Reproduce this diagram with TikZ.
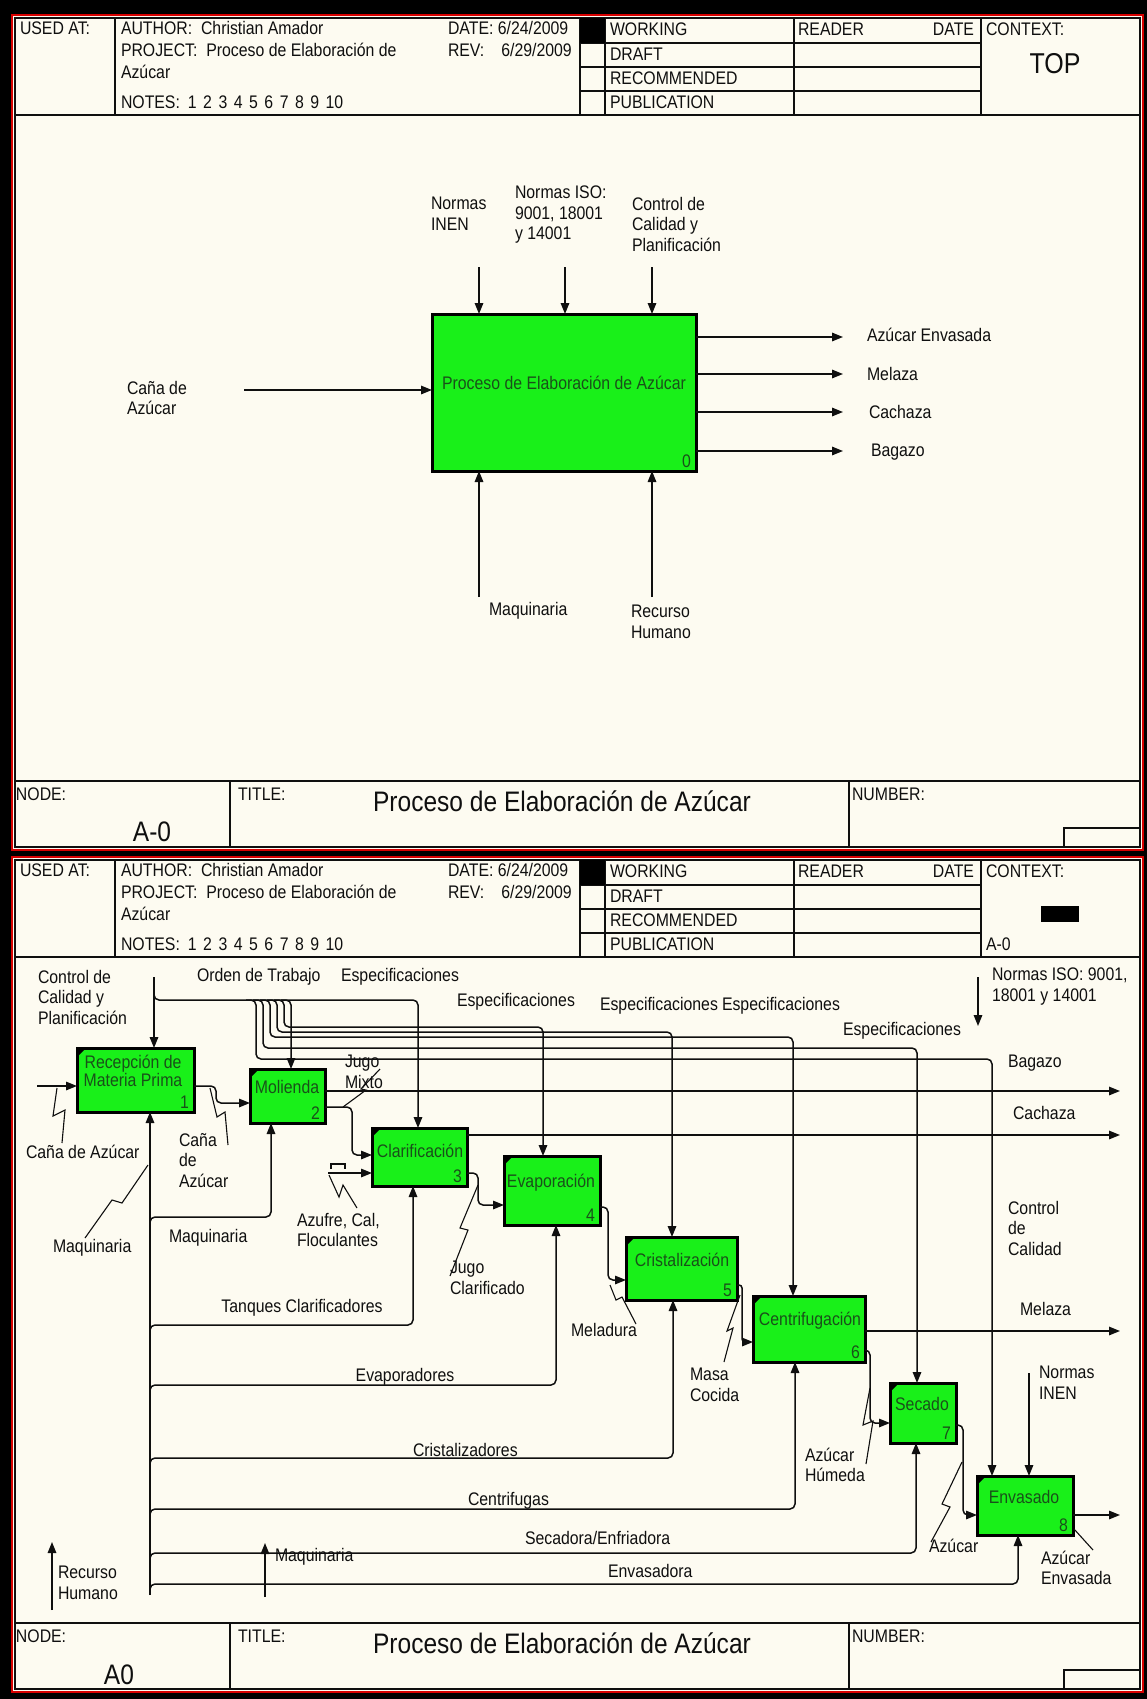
\documentclass[tikz,border=0pt]{standalone}
\usepackage{fontspec}
\setmainfont[FakeStretch=0.87]{Liberation Sans}
\usetikzlibrary{arrows.meta}
\definecolor{sheet}{RGB}{253,251,241}
\definecolor{frame}{RGB}{215,0,0}
\definecolor{act}{RGB}{25,240,25}
\definecolor{acttext}{RGB}{25,80,25}
\definecolor{ink}{RGB}{15,15,15}

% One IDEF0 sheet: red border, header block and footer block.
\newcommand\idefsheet[1]{%
  \filldraw[fill=sheet, draw=frame, line width=2.5pt] (12,15) rectangle (1143,850);
  \draw[grid] (15,18) rectangle (1140,847);
  \draw[grid] (15,115) -- (1140,115);
  \draw[grid] (115,18) -- (115,115) (580,18) -- (580,115) (605,18) -- (605,115)
              (794,18) -- (794,115) (981,18) -- (981,115);
  \draw[grid] (580,43) -- (981,43) (580,67) -- (981,67) (580,91) -- (981,91);
  \fill[black] (580,18) rectangle (605,43);
  \node[txt] (#1used)  at (20,30)  {USED AT:};
  \node[txt] (#1auth)  at (121,30) {AUTHOR:\ \ Christian Amador};
  \node[txt] (#1proj)  at (121,52) {PROJECT:\ \ Proceso de Elaboración de};
  \node[txt] (#1projb) at (121,74) {Azúcar};
  \node[txt] (#1notes) at (121,104) {NOTES:\hspace{8pt}1\hspace{6.5pt}2\hspace{6.5pt}3\hspace{6.5pt}4\hspace{6.5pt}5\hspace{6.5pt}6\hspace{6.5pt}7\hspace{6.5pt}8\hspace{6.5pt}9\hspace{6.5pt}10};
  \node[txt] (#1date)  at (448,30) {DATE: 6/24/2009};
  \node[txt] (#1rev)   at (448,52) {REV:\hspace{17pt}6/29/2009};
  \node[txt] (#1work)  at (610,31) {WORKING};
  \node[txt] (#1draft) at (610,56) {DRAFT};
  \node[txt] (#1recom) at (610,80) {RECOMMENDED};
  \node[txt] (#1publ)  at (610,104) {PUBLICATION};
  \node[txt] (#1read)  at (798,31) {READER};
  \node[txt, anchor=east] (#1rdate) at (974,31) {DATE};
  \node[txt] (#1ctx)   at (986,31) {CONTEXT:};
  \draw[grid] (15,781) -- (1140,781) (230,781) -- (230,847) (849,781) -- (849,847)
              (1064,847) -- (1064,828) -- (1140,828);
  \node[txt] (#1node)  at (16,796)  {NODE:};
  \node[txt] (#1title) at (238,796) {TITLE:};
  \node[txt] (#1numb)  at (852,796) {NUMBER:};
  \node[big] (#1name)  at (562,801) {Proceso de Elaboración de Azúcar};
}

\begin{document}
\begin{tikzpicture}[x=1pt, y=-1pt,
  every node/.style={inner sep=0pt, outer sep=0pt, text=ink,
                     font=\fontsize{18.2}{20.5}\selectfont},
  txt/.style={anchor=west, text height=13pt, text depth=4pt},
  ml/.style={anchor=north west, align=left},
  big/.style={font=\fontsize{28.2}{31}\selectfont},
  grid/.style={line width=1.5pt, draw=ink},
  actbox/.style={draw=black, line width=3pt, fill=act, anchor=north west},
  acttxt/.style={text=acttext, align=center, font=\fontsize{18.2}{18.5}\selectfont},
  num/.style={text=acttext, anchor=south east, text height=12.5pt, text depth=0pt},
  flow/.style={line width=1.5pt, draw=ink, rounded corners=5pt,
               -{Triangle[length=11pt,width=8.5pt]}},
  squig/.style={line width=1.1pt, draw=ink},
]
\useasboundingbox (0,0) rectangle (1147,1699);
\fill[black] (0,0) rectangle (1147,1699);

% ---------------- context sheet (A-0) ----------------
\idefsheet{u}
\node[big, font=\fontsize{28.7}{31}\selectfont] (utop) at (1055,64) {TOP};
\node[big] (uA) at (152,832) {A-0};

\node[actbox, minimum width=264pt, minimum height=157pt] (b0) at (432,314) {};
\node[acttxt] (b0t) at (564,383) {Proceso de Elaboración de Azúcar};
\node[num] (b0n) at ([xshift=-5pt,yshift=4pt]b0.south east) {0};

\coordinate (uc1) at (479,267);
\coordinate (uc2) at (565,267);
\coordinate (uc3) at (652,267);
\draw[flow] (uc1) -- (uc1 |- b0.north);
\draw[flow] (uc2) -- (uc2 |- b0.north);
\draw[flow] (uc3) -- (uc3 |- b0.north);
\coordinate (um1) at (479,597);
\coordinate (um2) at (652,597);
\draw[flow] (um1) -- (um1 |- b0.south);
\draw[flow] (um2) -- (um2 |- b0.south);
\coordinate (ui) at (244,390);
\draw[flow] (ui) -- (ui -| b0.west);
\coordinate (uo1) at (843,337);
\coordinate (uo2) at (843,374);
\coordinate (uo3) at (843,412);
\coordinate (uo4) at (843,451);
\draw[flow] (uo1 -| b0.east) -- (uo1);
\draw[flow] (uo2 -| b0.east) -- (uo2);
\draw[flow] (uo3 -| b0.east) -- (uo3);
\draw[flow] (uo4 -| b0.east) -- (uo4);

\node[ml] (ul1) at (431,197) {Normas\\INEN};
\node[ml] (ul2) at (515,186) {Normas ISO:\\9001, 18001\\y 14001};
\node[ml] (ul3) at (632,197) {Control de\\Calidad y\\Planificación};
\node[txt] (ul4) at (489,611) {Maquinaria};
\node[ml] (ul5) at (631,605) {Recurso\\Humano};
\node[ml] (ul6) at (127,381) {Caña de\\Azúcar};
\node[txt] (ul7) at (867,337) {Azúcar Envasada};
\node[txt] (ul8) at (867,376) {Melaza};
\node[txt] (ul9) at (869,414) {Cachaza};
\node[txt] (ul10) at (871,452) {Bagazo};

% ---------------- decomposition sheet (A0) ----------------
\begin{scope}[yshift=-842pt]
  \idefsheet{l}
  \fill[black] (1041,64) rectangle (1079,80);
  \node[txt] (lctxA) at (986,104) {A-0};
  \node[big] (lA) at (119,833) {A0};
\end{scope}

% activities
\node[actbox, minimum width=117pt, minimum height=64pt] (b1) at (77,1048) {};
\node[actbox, minimum width=75pt,  minimum height=54pt] (b2) at (250,1069) {};
\node[actbox, minimum width=95pt,  minimum height=58pt] (b3) at (372,1128) {};
\node[actbox, minimum width=96pt,  minimum height=69pt] (b4) at (504,1156) {};
\node[actbox, minimum width=111pt, minimum height=63pt] (b5) at (626,1237) {};
\node[actbox, minimum width=112pt, minimum height=66pt] (b6) at (753,1296) {};
\node[actbox, minimum width=66pt,  minimum height=60pt] (b7) at (890,1383) {};
\node[actbox, minimum width=96pt,  minimum height=59pt] (b8) at (977,1476) {};
\foreach \b in {b1,b2,b3,b4,b5,b6,b7,b8}
  \fill[black] (\b.north west) -- ++(9,0) -- ++(-9,9) -- cycle;

\node[acttxt] (b1t) at (133,1071) {Recepción de\\Materia Prima};
\node[acttxt] (b2t) at (287,1087) {Molienda};
\node[acttxt] (b3t) at (420,1151) {Clarificación};
\node[acttxt] (b4t) at (551,1183) {Evaporación};
\node[acttxt] (b5t) at (682,1260) {Cristalización};
\node[acttxt] (b6t) at (810,1321) {Centrifugación};
\node[acttxt] (b7t) at (922,1404) {Secado};
\node[acttxt] (b8t) at (1024,1497) {Envasado};
\node[num] (b1n) at ([xshift=-5pt,yshift=4pt]b1.south east) {1};
\node[num] (b2n) at ([xshift=-5pt,yshift=4pt]b2.south east) {2};
\node[num] (b3n) at ([xshift=-5pt,yshift=4pt]b3.south east) {3};
\node[num] (b4n) at ([xshift=-5pt,yshift=4pt]b4.south east) {4};
\node[num] (b5n) at ([xshift=-5pt,yshift=4pt]b5.south east) {5};
\node[num] (b6n) at ([xshift=-5pt,yshift=4pt]b6.south east) {6};
\node[num] (b7n) at ([xshift=-5pt,yshift=4pt]b7.south east) {7};
\node[num] (b8n) at ([xshift=-5pt,yshift=4pt]b8.south east) {8};

% controls
\coordinate (cq) at (154,977);
\draw[flow] (cq) -- (cq |- b1.north);
\draw[flow] (154,990) -- (154,1000) -- (418,1000) -- (418,0 |- b3.north);
\draw[flow] (281,1000) -- (291,1000) -- (291,0 |- b2.north);
\draw[flow] (274,1000) -- (284,1000) -- (284,1027) -- (543,1027) -- (543,0 |- b4.north);
\draw[flow] (267,1000) -- (277,1000) -- (277,1032) -- (672,1032) -- (672,0 |- b5.north);
\draw[flow] (260,1000) -- (270,1000) -- (270,1037) -- (793,1037) -- (793,0 |- b6.north);
\draw[flow] (253,1000) -- (263,1000) -- (263,1048) -- (917,1048) -- (917,0 |- b7.north);
\draw[flow] (246,1000) -- (256,1000) -- (256,1059) -- (992,1059) -- (992,0 |- b8.north);
\coordinate (iso) at (978,977);
\coordinate (isoend) at (978,1026);
\draw[flow] (iso) -- (isoend);
\coordinate (inen) at (1029,1373);
\draw[flow] (inen) -- (inen |- b8.north);

% inputs and outputs
\coordinate (cana) at (37,1086);
\draw[flow] (cana) -- (cana -| b1.west);
\draw[flow] (b1.east |- 0,1086) -- (216,1086) -- (216,1103) -- (b2.west |- 0,1103);
\coordinate (bag) at (1120,1091);
\draw[flow] (bag -| b2.east) -- (bag);
\draw[flow] (b2.east |- 0,1107) -- (352,1107) -- (352,1155) -- (b3.west |- 0,1155);
\coordinate (azf) at (328,1173);
\draw[flow] (azf) -- (azf -| b3.west);
\draw[squig] (331,1169) -- (331,1164) -- (345,1164) -- (345,1169);
\coordinate (cach) at (1120,1135);
\draw[flow] (cach -| b3.east) -- (cach);
\draw[flow] (b3.east |- 0,1173) -- (478,1173) -- (478,1205) -- (b4.west |- 0,1205);
\draw[flow] (b4.east |- 0,1207) -- (608,1207) -- (608,1280) -- (b5.west |- 0,1280);
\draw[flow, rounded corners=3pt] (b5.east |- 0,1285) -- (742,1285) -- (742,1342) -- (b6.west |- 0,1342);
\coordinate (mel) at (1120,1331);
\draw[flow] (mel -| b6.east) -- (mel);
\draw[flow] (b6.east |- 0,1350) -- (870,1350) -- (870,1423) -- (b7.west |- 0,1423);
\draw[flow] (b7.east |- 0,1425) -- (963,1425) -- (963,1515) -- (b8.west |- 0,1515);
\coordinate (env) at (1120,1515);
\draw[flow] (env -| b8.east) -- (env);

% mechanisms
\coordinate (bus) at (150,1595);
\draw[flow] (bus) -- (bus |- b1.south);
\draw[flow] (150,1226) -- (150,1217) -- (271,1217) -- (271,0 |- b2.south);
\draw[flow] (150,1334) -- (150,1325) -- (413,1325) -- (413,0 |- b3.south);
\draw[flow] (150,1394) -- (150,1385) -- (556,1385) -- (556,0 |- b4.south);
\draw[flow] (150,1467) -- (150,1458) -- (673,1458) -- (673,0 |- b5.south);
\draw[flow] (150,1518) -- (150,1509) -- (795,1509) -- (795,0 |- b6.south);
\draw[flow] (150,1562) -- (150,1553) -- (916,1553) -- (916,0 |- b7.south);
\draw[flow] (150,1593) -- (150,1584) -- (1018,1584) -- (1018,0 |- b8.south);
\coordinate (rh) at (52,1610);
\coordinate (rhend) at (52,1542);
\draw[flow] (rh) -- (rhend);
\coordinate (mq) at (265,1597);
\coordinate (mqend) at (265,1543);
\draw[flow] (mq) -- (mqend);

% label leaders
\draw[squig] (62,1143) -- (65,1110) -- (53,1116) -- (57,1088);
\draw[squig] (85,1238) -- (112,1200) -- (122,1203) -- (148,1165);
\draw[squig] (228,1145) -- (225,1112) -- (217,1117) -- (210,1088);
\draw[squig] (343,1107) -- (366,1090) -- (361,1089) -- (380,1069);
\draw[squig] (357,1208) -- (343,1185) -- (339,1197) -- (329,1175);
\draw[squig] (450,1276) -- (468,1230) -- (460,1228) -- (478,1185);
\draw[squig] (636,1324) -- (622,1297) -- (616,1300) -- (610,1285);
\draw[squig] (724,1362) -- (733,1328) -- (727,1331) -- (740,1295);
\draw[squig] (866,1464) -- (873,1421) -- (863,1425) -- (870,1388);
\draw[squig] (931,1542) -- (950,1507) -- (942,1504) -- (962,1462);
\draw[squig] (1074,1529) -- (1093,1550);

% arrow labels
\node[ml] (l1) at (38,970) {Control de\\Calidad y\\Planificación};
\node[txt] (l2) at (197,977) {Orden de Trabajo};
\node[txt] (l3) at (341,977) {Especificaciones};
\node[txt] (l4) at (457,1002) {Especificaciones};
\node[txt] (l5) at (600,1006) {Especificaciones};
\node[txt] (l6) at (722,1006) {Especificaciones};
\node[txt] (l7) at (843,1031) {Especificaciones};
\node[ml] (l8) at (992,968) {Normas ISO: 9001,\\18001 y 14001};
\node[txt] (l9) at (1008,1063) {Bagazo};
\node[txt] (l10) at (1013,1115) {Cachaza};
\node[ml] (l11) at (1008,1201) {Control\\de\\Calidad};
\node[txt] (l12) at (1020,1311) {Melaza};
\node[ml] (l13) at (1039,1366) {Normas\\INEN};
\node[txt] (l14) at (26,1154) {Caña de Azúcar};
\node[ml] (l15) at (179,1133) {Caña\\de\\Azúcar};
\node[ml] (l16) at (345,1055) {Jugo\\Mixto};
\node[ml] (l17) at (297,1213) {Azufre, Cal,\\Floculantes};
\node[txt] (l18) at (53,1248) {Maquinaria};
\node[txt] (l19) at (169,1238) {Maquinaria};
\node[ml] (l20) at (450,1261) {Jugo\\Clarificado};
\node[txt, anchor=center] (l21) at (302,1308) {Tanques Clarificadores};
\node[txt, anchor=center] (l22) at (405,1377) {Evaporadores};
\node[txt] (l23) at (571,1332) {Meladura};
\node[ml] (l24) at (690,1368) {Masa\\Cocida};
\node[txt] (l25) at (413,1452) {Cristalizadores};
\node[txt] (l26) at (468,1501) {Centrifugas};
\node[ml] (l27) at (805,1448) {Azúcar\\Húmeda};
\node[txt] (l28) at (525,1540) {Secadora/Enfriadora};
\node[txt] (l29) at (929,1548) {Azúcar};
\node[ml] (l30) at (1041,1551) {Azúcar\\Envasada};
\node[txt] (l31) at (275,1557) {Maquinaria};
\node[txt] (l32) at (608,1573) {Envasadora};
\node[ml] (l33) at (58,1566) {Recurso\\Humano};
\end{tikzpicture}
\end{document}
